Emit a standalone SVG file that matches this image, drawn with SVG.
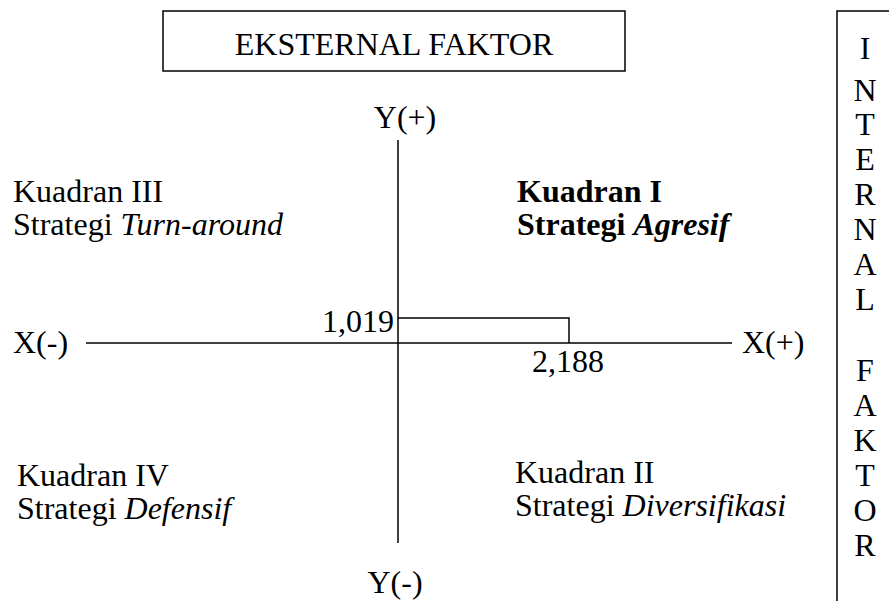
<svg xmlns="http://www.w3.org/2000/svg" width="889" height="601" viewBox="0 0 889 601">
<style>
text{font-family:'Liberation Serif','Tinos','Times New Roman','DejaVu Serif',serif;font-size:32px;fill:#000}
.b{font-weight:bold}
.i{font-style:italic}
.ln{stroke:#000;stroke-width:1.5;fill:none}
.v text{text-anchor:middle}
</style>
<rect width="889" height="601" fill="#fff"/>
<g id="eksternal">
<rect class="ln" x="163" y="11" width="462" height="60"/>
<text x="394" y="55" text-anchor="middle">EKSTERNAL FAKTOR</text>
</g>
<g id="internal" class="v">
<rect class="ln" x="837" y="11" width="60" height="600"/>
<text x="865" y="59">I</text>
<text x="865" y="101">N</text>
<text x="865" y="135">T</text>
<text x="865" y="170">E</text>
<text x="865" y="205">R</text>
<text x="865" y="240">N</text>
<text x="865" y="275">A</text>
<text x="865" y="310">L</text>
<text x="865" y="381">F</text>
<text x="865" y="416">A</text>
<text x="865" y="451">K</text>
<text x="865" y="486">T</text>
<text x="865" y="521">O</text>
<text x="865" y="556">R</text>
</g>
<g id="connectors">
<line class="ln" x1="398" y1="140" x2="398" y2="543"/>
<line class="ln" x1="86" y1="343" x2="732" y2="343"/>
<polyline class="ln" points="398,318 569,318 569,343"/>
</g>
<g id="axis-labels">
<text x="405" y="128" text-anchor="middle">Y(+)</text>
<text x="395" y="593" text-anchor="middle">Y(-)</text>
<text x="13" y="353">X(-)</text>
<text x="742" y="353">X(+)</text>
<text x="394" y="332" text-anchor="end">1,019</text>
<text x="568" y="372" text-anchor="middle">2,188</text>
</g>
<g id="kuadran3">
<text x="13" y="202">Kuadran III</text>
<text x="13" y="235">Strategi <tspan class="i">Turn-around</tspan></text>
</g>
<g id="kuadran1">
<text x="517" y="202" class="b">Kuadran I</text>
<text x="517" y="235" class="b">Strategi <tspan class="i">Agresif</tspan></text>
</g>
<g id="kuadran4">
<text x="17" y="486">Kuadran IV</text>
<text x="17" y="519">Strategi <tspan class="i">Defensif</tspan></text>
</g>
<g id="kuadran2">
<text x="515" y="483">Kuadran II</text>
<text x="515" y="516">Strategi <tspan class="i">Diversifikasi</tspan></text>
</g>
</svg>
